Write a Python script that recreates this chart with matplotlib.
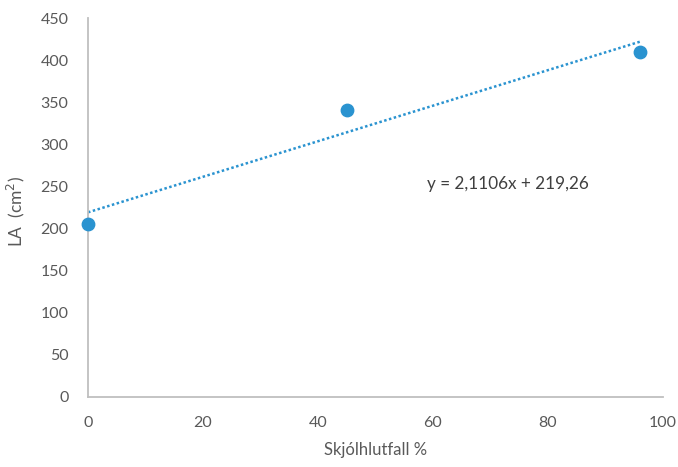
import matplotlib
matplotlib.use("Agg")
import matplotlib.pyplot as plt
import numpy as np

x_vals = [0, 45, 96]
y_vals = [205, 341, 410]
slope = 2.1106
intercept = 219.26
eq_label = "y = 2,1106x + 219,26"
x_ticks = [0, 20, 40, 60, 80, 100]
y_ticks = [0, 50, 100, 150, 200, 250, 300, 350, 400, 450]

plt.rcParams['font.family'] = ['Lato', 'DejaVu Sans']
fig = plt.figure(figsize=(6.78, 4.67), dpi=100)
ax = fig.add_axes([88/678, 1-397/467, (663-88)/678, (397-18)/467])

blue = '#2A93D0'
gray = '#595959'
tx = np.array([min(x_vals), max(x_vals)])
ax.plot(tx, slope*tx + intercept, linestyle=(0, (1, 1)), color=blue, lw=1.8, zorder=2)
ax.scatter(x_vals, y_vals, s=80, color=blue, zorder=3, clip_on=False)

ax.set_xlim(0, 100)
ax.set_ylim(0, 450)
ax.set_xticks(x_ticks)
ax.set_yticks(y_ticks)
for s in ['top', 'right']:
    ax.spines[s].set_visible(False)
for s in ['left', 'bottom']:
    ax.spines[s].set_color('#BFBFBF')
    ax.spines[s].set_linewidth(1.3)
ax.tick_params(axis='y', length=0, labelsize=11.5, colors=gray, pad=14)
ax.tick_params(axis='x', length=0, labelsize=11.5, colors=gray, pad=14)
ax.set_xlabel("Skjólhlutfall %", fontsize=12, color=gray, labelpad=8)
ax.set_ylabel("LA  (cm$^2$)", fontsize=12.5, color=gray)
ax.yaxis.set_label_coords(-0.106, 0.49)
ax.text(59, 253, eq_label, fontsize=12.3, color='#404040', va='center', ha='left')

fig.savefig("out.png", dpi=100)
